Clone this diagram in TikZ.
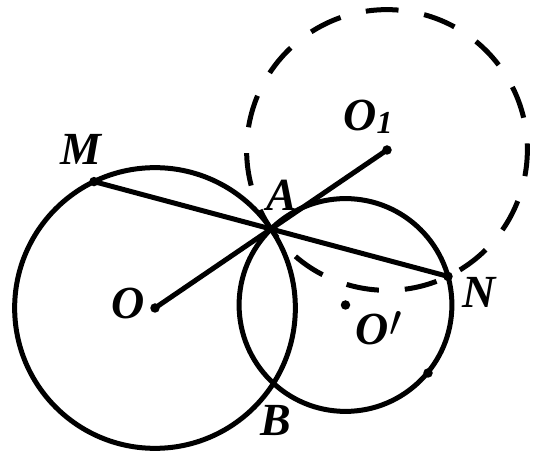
\documentclass[tikz,border=0pt]{standalone}
\usepackage{graphicx}
\usepackage{fontspec}
\setmainfont{Liberation Serif}
\begin{document}
\begin{tikzpicture}[x=1pt,y=1pt,line width=5pt,
  lbl/.style={font=\fontsize{46}{46}\selectfont\bfseries\itshape, inner sep=0pt},
  pt/.style={circle, fill, inner sep=0pt, minimum size=9.5pt}]
\useasboundingbox (0,0) rectangle (542,-454);
% points
\coordinate (O) at (155,-308);
\coordinate (O1) at (387,-150);
\coordinate (A) at (271,-229);
\coordinate (Op) at (345.5,-305);
\coordinate (N) at (448,-276.4);
\coordinate (M) at (94,-181.6);
\coordinate (B) at (273.4,-383.3);
\coordinate (P) at (428,-373);
% circles
\draw (O) circle (140.35);
\draw (Op) circle (106.4);
\draw[dash pattern=on 32.8pt off 25.99pt] (O1) ++(-10.7:140.35) arc[start angle=-10.7, end angle=349.3, radius=140.35];
% segments
\draw (O) -- (O1);
\draw (M) -- (N);
% dots
\foreach \p in {O,O1,Op,M,N,P} \node[pt] at (\p) {};
% labels
\node[lbl] at (81,-149) {M};
\node[lbl] at (368,-117) {O\kern0pt\raisebox{-3pt}{\fontsize{32}{32}\selectfont 1}};
\node[lbl] at (282,-195) {A};
\node[lbl] at (128,-303) {O};
\node[lbl] at (276,-421) {B};
\node[lbl] at (479,-292) {N};
\node[lbl, anchor=base west] (OpL) at (353,-345) {O\kern1pt\raisebox{8pt}{\scalebox{1.8}{$\prime$}}};
\end{tikzpicture}
\end{document}
